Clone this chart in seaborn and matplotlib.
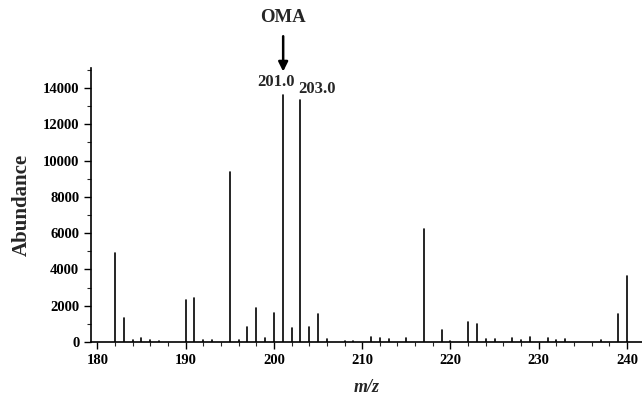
import pandas as pd
import matplotlib.pyplot as plt
import seaborn as sns

# -------------------------------------------------
# Mass spectrum data
# -------------------------------------------------
mz = [182, 183, 184, 185, 186, 187, 190, 191, 192, 193, 195, 196, 197, 198,
      199, 200, 201, 202, 203, 204, 205, 206, 208, 209, 211, 212, 213, 215,
      217, 219, 220, 222, 223, 224, 225, 227, 228, 229, 231, 232, 233, 237,
      239, 240]
abundance = [4890, 1300, 100, 250, 100, 60, 2310, 2400, 100, 100, 9390, 120,
             845, 1855, 200, 1620, 13620, 755, 13340, 845, 1525, 150, 60, 60,
             290, 200, 150, 250, 6210, 660, 60, 1100, 990, 150, 150, 250, 100,
             300, 200, 100, 150, 100, 1540, 3640]
peak_labels = ["201.0", "203.0"]
peak_label_pos = [(200.2, 14330), (204.9, 13960)]

# Each peak becomes a vertical stem: (mz, 0) -> (mz, abundance)
rows = []
for i, (m, a) in enumerate(zip(mz, abundance)):
    rows.append({"peak": i, "mz": m, "abundance": 0})
    rows.append({"peak": i, "mz": m, "abundance": a})
stems = pd.DataFrame(rows)

# -------------------------------------------------
# Plot
# -------------------------------------------------
sns.set_style("ticks")
plt.rcParams["font.family"] = ["Liberation Serif", "DejaVu Serif"]
plt.rcParams["font.weight"] = "bold"

fig = plt.figure(figsize=(6.42, 3.95), dpi=100)
ax = fig.add_axes([0.142, 0.134, 0.858, 0.694])

sns.lineplot(data=stems, x="mz", y="abundance", units="peak", estimator=None,
             color="black", linewidth=1.2, ax=ax)

ax.set_xlim(179.3, 241.7)
ax.set_ylim(0, 15100)
ax.set_xticks(range(180, 241, 10))
ax.set_xticks(range(180, 241, 2), minor=True)
ax.set_yticks(range(0, 14001, 2000))
ax.set_yticks(range(0, 15001, 1000), minor=True)
ax.tick_params(axis="both", which="major", direction="out", length=5,
               width=1, labelsize=10.5, colors="black")
ax.tick_params(axis="both", which="minor", direction="out", length=3, width=0.8)
for lab in ax.get_xticklabels() + ax.get_yticklabels():
    lab.set_fontweight("bold")

sns.despine(ax=ax)
for side in ["left", "bottom"]:
    ax.spines[side].set_color("black")
    ax.spines[side].set_linewidth(1.2)

ax.set_xlabel("m/z", fontsize=13, fontweight="bold", fontstyle="italic",
              labelpad=9)
ax.set_ylabel("Abundance", fontsize=15, fontweight="bold", labelpad=8)

# Peak labels
for text, (x, y) in zip(peak_labels, peak_label_pos):
    ax.text(x, y, text, ha="center", va="center", fontsize=12,
            fontweight="bold")

# OMA arrow
ax.annotate("", xy=(201.05, 14750), xytext=(201.05, 17000),
            arrowprops=dict(arrowstyle="-|>", color="black", lw=1.8,
                            mutation_scale=14),
            annotation_clip=False)
ax.text(201.05, 17900, "OMA", ha="center", va="center", fontsize=13.5,
        fontweight="bold", clip_on=False)

plt.savefig("out.png", dpi=100)
